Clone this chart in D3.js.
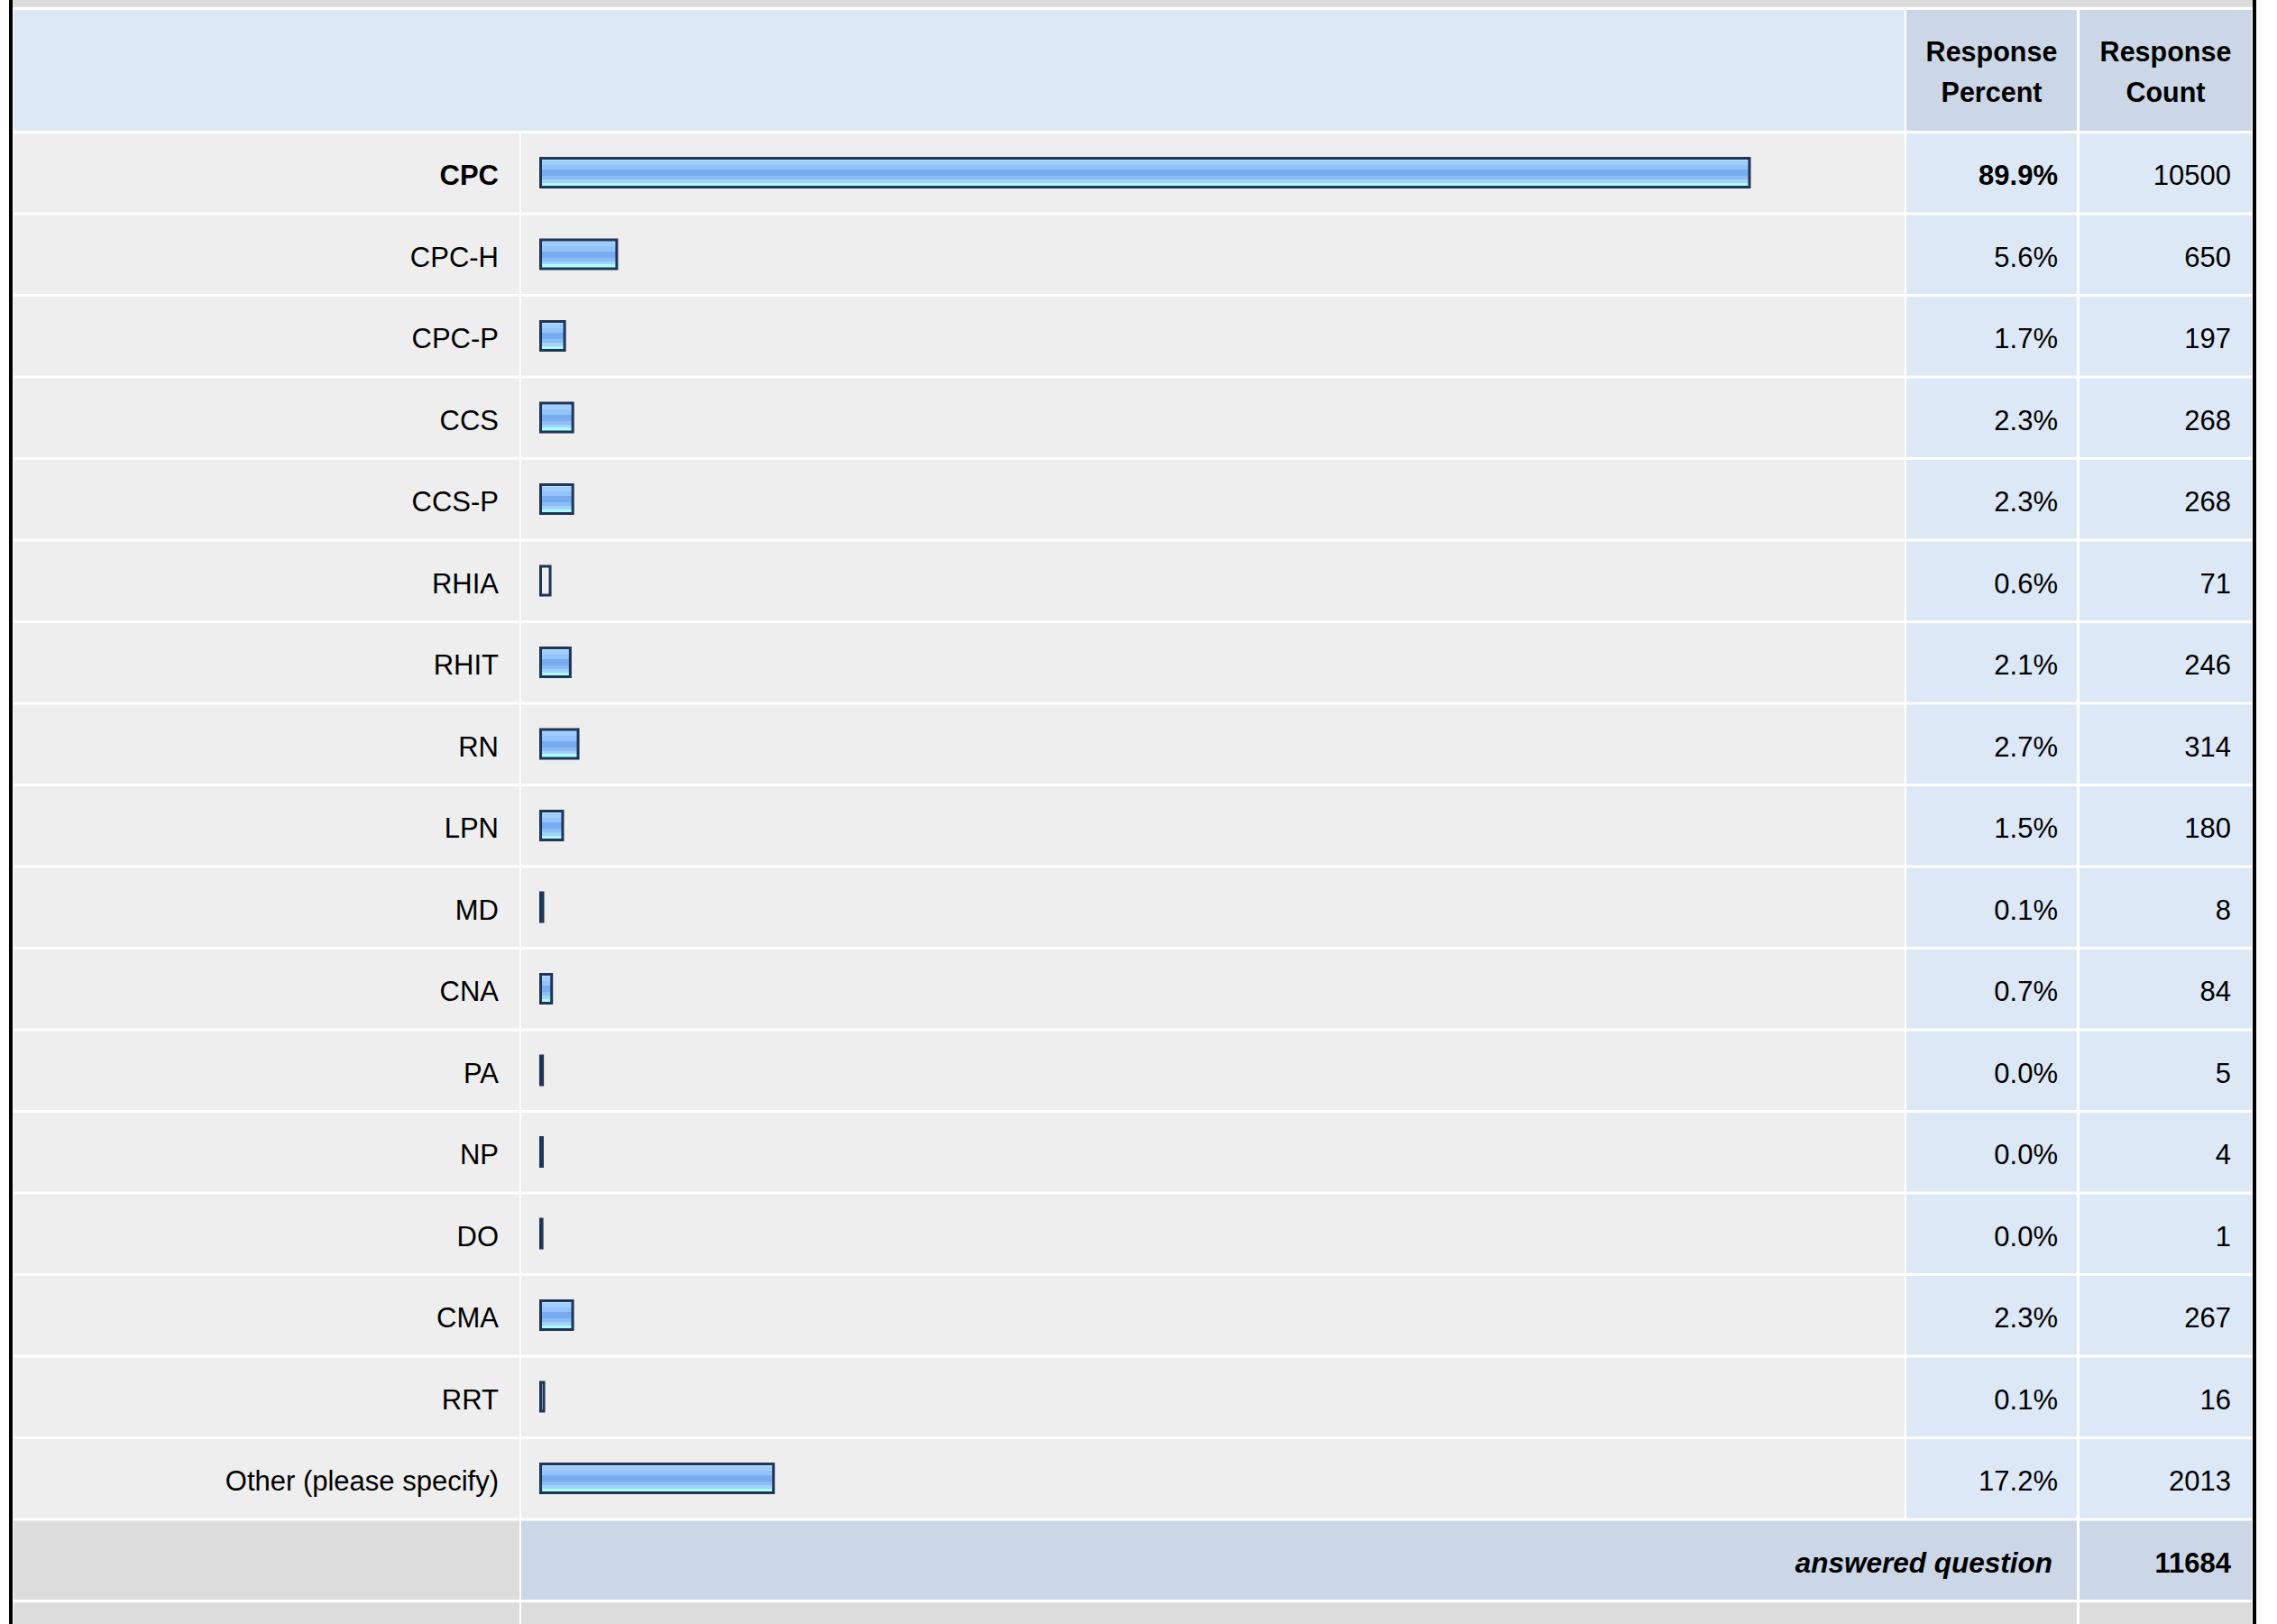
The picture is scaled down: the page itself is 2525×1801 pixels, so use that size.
<!DOCTYPE html>
<html>
<head>
<meta charset="utf-8">
<script src="https://cdn.jsdelivr.net/npm/d3@7"></script>
<style>
  html, body { margin: 0; padding: 0; background: #fff; }
  svg { display: block; }
  text { font-family: "Liberation Sans", Arial, sans-serif; fill: #000; }
</style>
</head>
<body>
<div id="chart-area"></div>
<script>
// Survey answers
const categories = ["CPC", "CPC-H", "CPC-P", "CCS", "CCS-P", "RHIA", "RHIT", "RN", "LPN",
  "MD", "CNA", "PA", "NP", "DO", "CMA", "RRT", "Other (please specify)"];
const counts = [10500, 650, 197, 268, 268, 71, 246, 314, 180, 8, 84, 5, 4, 1, 267, 16, 2013];
const percentLabels = ["89.9%", "5.6%", "1.7%", "2.3%", "2.3%", "0.6%", "2.1%", "2.7%", "1.5%",
  "0.1%", "0.7%", "0.0%", "0.0%", "0.0%", "2.3%", "0.1%", "17.2%"];
const answered = 11684;
const headers = [["Response", "Percent"], ["Response", "Count"]];

const width = 2525, height = 1801;
const svg = d3.select("#chart-area").append("svg")
    .attr("width", width).attr("height", height);

// column edges (table cells)
const col = {
  label: { x: 15, w: 561 },
  bar: { x: 578, w: 1534 },
  pct: { x: 2114, w: 189 },
  cnt: { x: 2306, w: 191 }
};
const rowTop = 148, gap = 3, pitch = 90.5;

// rows as a band scale
const y = d3.scaleBand()
    .domain(categories)
    .range([rowTop, rowTop + categories.length * pitch - gap])
    .paddingInner(gap / pitch);
const rowH = y.bandwidth();

// bar length scale (share of answered)
const x = d3.scaleLinear().domain([0, 1]).range([0, 1490]);

// gradient for bars
const defs = svg.append("defs");
const grad = defs.append("linearGradient").attr("id", "barGrad")
    .attr("x1", 0).attr("y1", 0).attr("x2", 0).attr("y2", 1);
const bands = [
  [0, 0.07, "#c2e1ff"], [0.07, 0.23, "#9fcdfc"], [0.23, 0.40, "#92c3fa"],
  [0.40, 0.62, "#78abf0"], [0.62, 0.74, "#8bbdf5"], [0.74, 0.85, "#a1d3fb"],
  [0.85, 1, "#adfcff"]
];
bands.forEach(b => {
  grad.append("stop").attr("offset", b[0]).attr("stop-color", b[2]);
  grad.append("stop").attr("offset", b[1]).attr("stop-color", b[2]);
});

// outer borders and top strip
svg.append("rect").attr("x", 14).attr("y", 0).attr("width", 2484).attr("height", 8).attr("fill", "#dcdcdc");
svg.append("rect").attr("x", 10).attr("y", 0).attr("width", 4).attr("height", height).attr("fill", "#000");
svg.append("rect").attr("x", 2498).attr("y", 0).attr("width", 4).attr("height", height).attr("fill", "#000");

// header
const headTop = 11, headH = 134;
svg.append("rect").attr("x", col.label.x).attr("y", headTop)
    .attr("width", col.bar.x + col.bar.w - col.label.x).attr("height", headH).attr("fill", "#dce8f6");
[col.pct, col.cnt].forEach((c, i) => {
  svg.append("rect").attr("x", c.x).attr("y", headTop).attr("width", c.w).attr("height", headH)
      .attr("fill", "#cbd7e6");
  const t = svg.append("text").attr("text-anchor", "middle")
      .attr("font-weight", "bold").attr("font-size", 30.5);
  headers[i].forEach((line, j) => {
    t.append("tspan").attr("x", c.x + c.w / 2).attr("y", 68 + j * 45).text(line);
  });
});

// data rows
const rows = svg.append("g").selectAll("g")
    .data(categories.map((c, i) => ({ cat: c, count: counts[i], pct: percentLabels[i], i })))
    .join("g")
    .attr("transform", d => `translate(0,${y(d.cat)})`);

rows.append("rect").attr("x", col.label.x).attr("width", col.label.w).attr("height", rowH).attr("fill", "#eeeeee");
rows.append("rect").attr("x", col.bar.x).attr("width", col.bar.w).attr("height", rowH).attr("fill", "#eeeeee");
rows.append("rect").attr("x", col.pct.x).attr("width", col.pct.w).attr("height", rowH).attr("fill", "#dce8f6");
rows.append("rect").attr("x", col.cnt.x).attr("width", col.cnt.w).attr("height", rowH).attr("fill", "#dce8f6");

const maxCount = d3.max(counts);

rows.append("text")
    .attr("x", 553).attr("y", 57)
    .attr("text-anchor", "end").attr("font-size", 31)
    .attr("font-weight", d => d.count === maxCount ? "bold" : "normal")
    .text(d => d.cat);

// bars: very narrow ones show only their outline
rows.append("rect")
    .attr("x", 599.5).attr("y", 27.5)
    .attr("width", d => x(d.count / answered) + 1.5)
    .attr("height", 32)
    .attr("fill", d => x(d.count / answered) < 9.5 ? "none" : "url(#barGrad)")
    .attr("stroke", "#1d3557").attr("stroke-width", 3);

rows.append("text")
    .attr("x", 2282).attr("y", 57)
    .attr("text-anchor", "end").attr("font-size", 31)
    .attr("font-weight", d => d.count === maxCount ? "bold" : "normal")
    .text(d => d.pct);

rows.append("text")
    .attr("x", 2474).attr("y", 57)
    .attr("text-anchor", "end").attr("font-size", 31)
    .text(d => d.count);

// footer: answered question
const footTop = rowTop + categories.length * pitch;
svg.append("rect").attr("x", col.label.x).attr("y", footTop).attr("width", col.label.w).attr("height", rowH).attr("fill", "#dcdcdc");
svg.append("rect").attr("x", col.bar.x).attr("y", footTop).attr("width", col.pct.x + col.pct.w - col.bar.x).attr("height", rowH).attr("fill", "#cbd7e6");
svg.append("rect").attr("x", col.cnt.x).attr("y", footTop).attr("width", col.cnt.w).attr("height", rowH).attr("fill", "#cbd7e6");
svg.append("text").attr("x", 2276).attr("y", footTop + 57)
    .attr("text-anchor", "end").attr("font-size", 31.5)
    .attr("font-weight", "bold").attr("font-style", "italic")
    .text("answered question");
svg.append("text").attr("x", 2474).attr("y", footTop + 57)
    .attr("text-anchor", "end").attr("font-size", 31).attr("font-weight", "bold")
    .text(answered);

// next (cut off) row
const lastTop = footTop + pitch;
svg.append("rect").attr("x", col.label.x).attr("y", lastTop).attr("width", col.label.w).attr("height", rowH).attr("fill", "#dcdcdc");
svg.append("rect").attr("x", col.bar.x).attr("y", lastTop).attr("width", col.pct.x + col.pct.w - col.bar.x).attr("height", rowH).attr("fill", "#dcdcdc");
svg.append("rect").attr("x", col.cnt.x).attr("y", lastTop).attr("width", col.cnt.w).attr("height", rowH).attr("fill", "#dcdcdc");
</script>
</body>
</html>
